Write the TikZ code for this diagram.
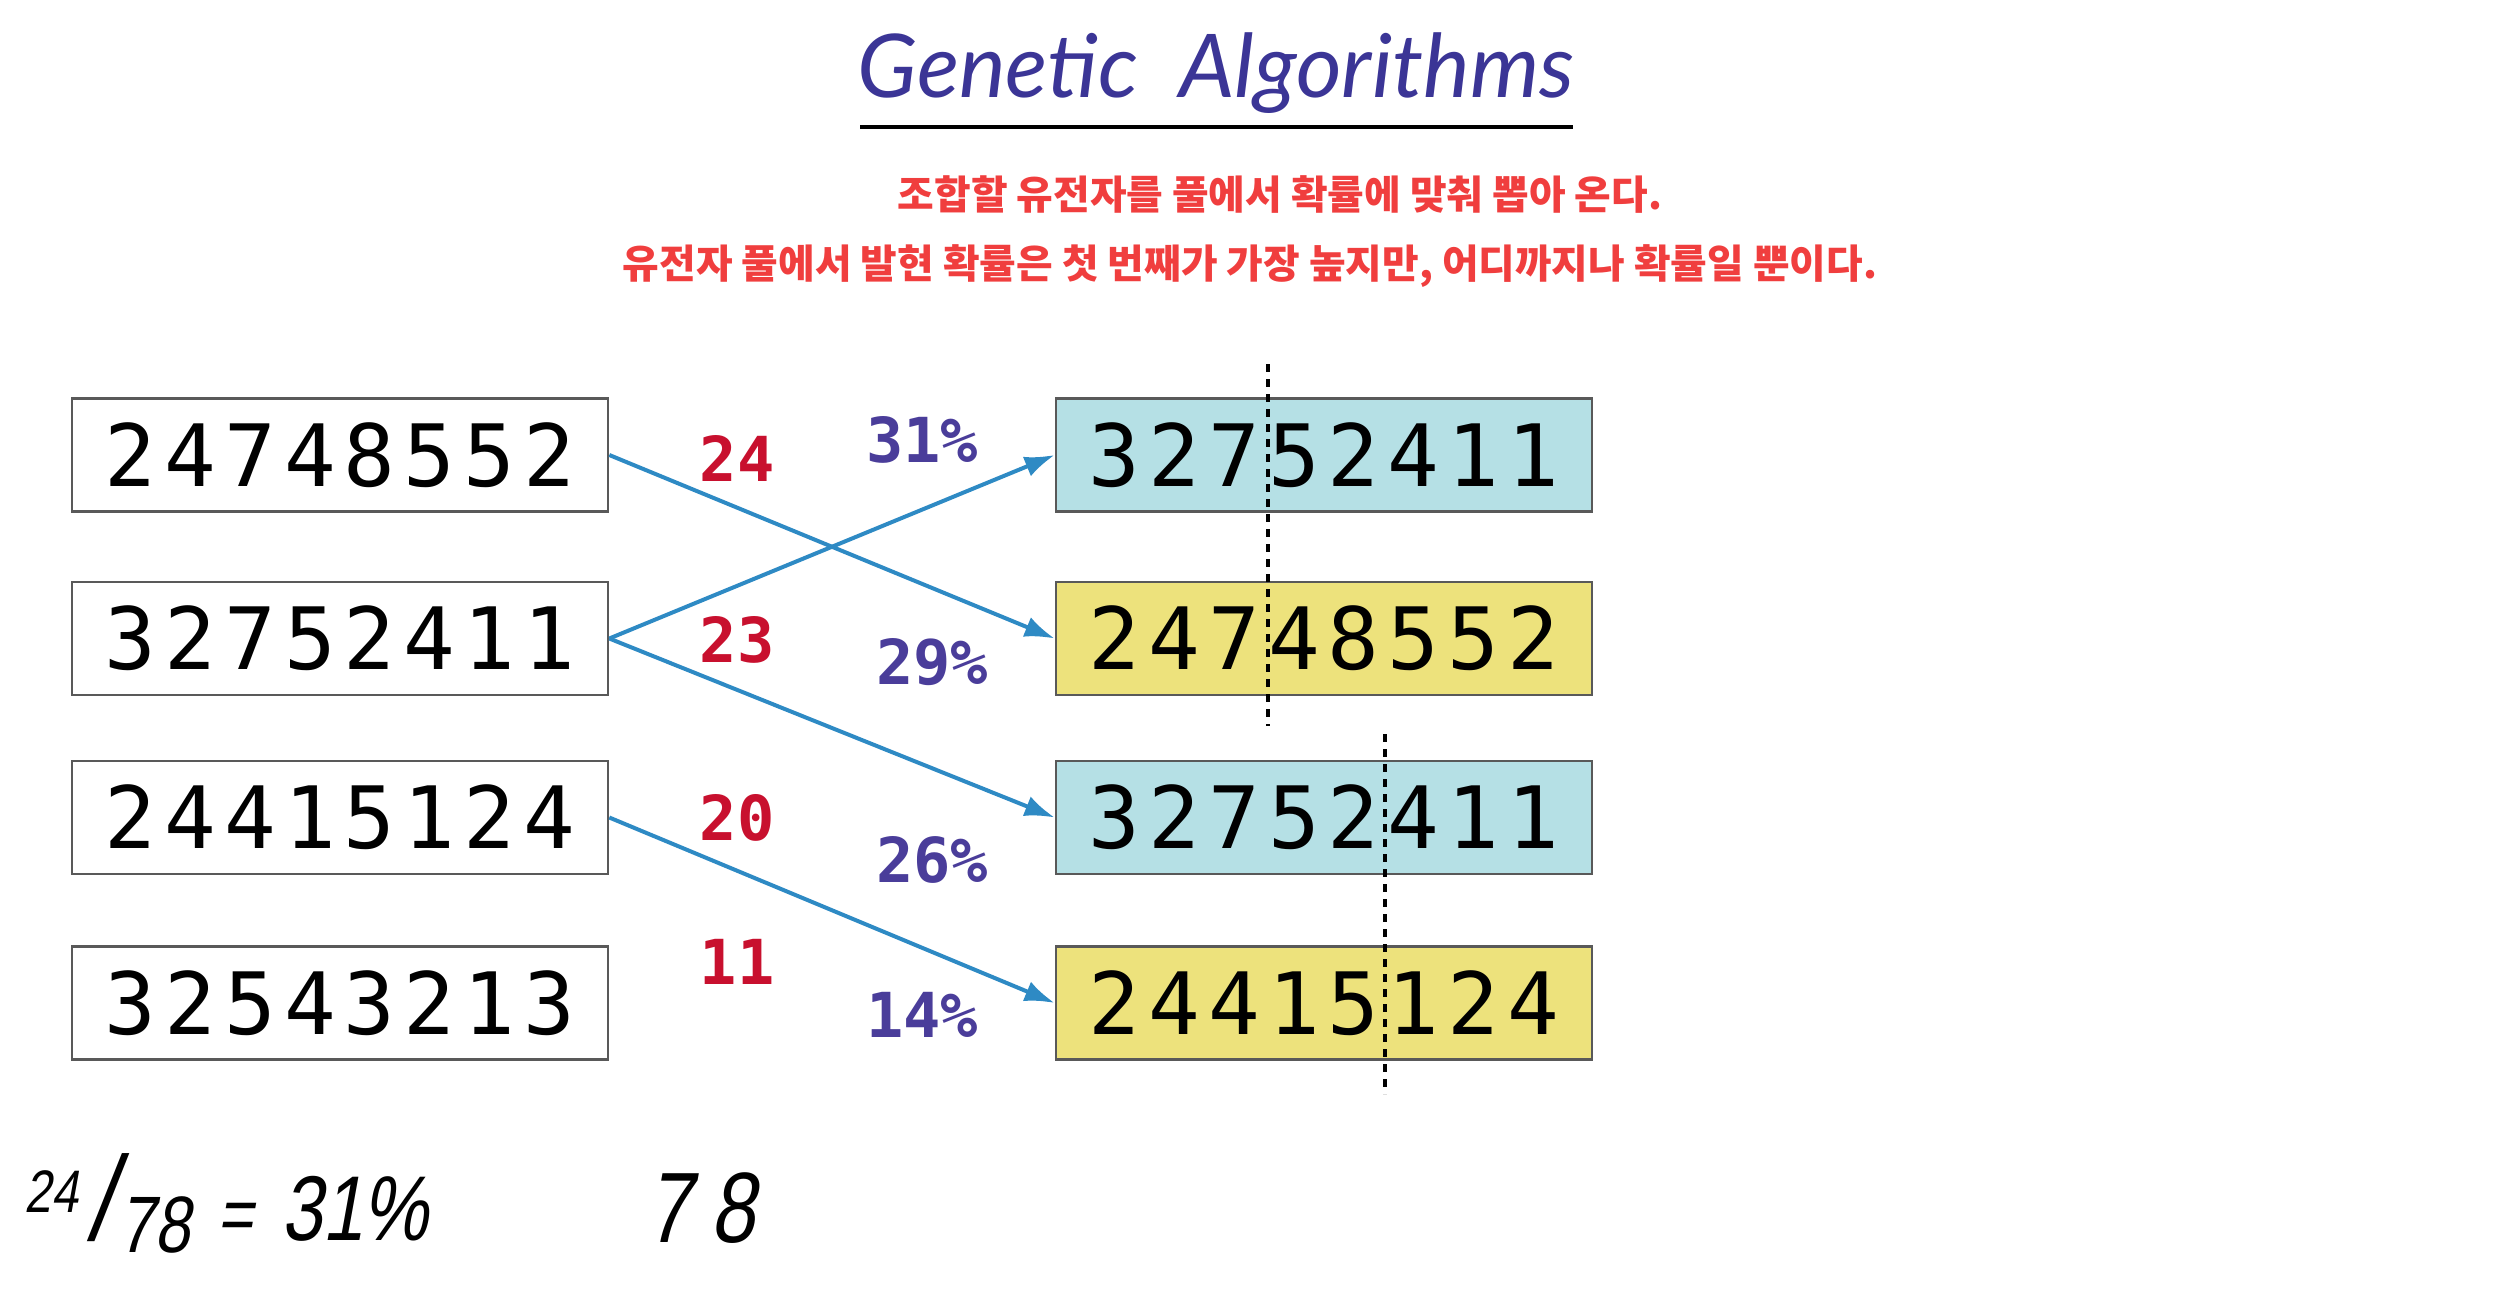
\documentclass[tikz,border=0pt]{standalone}
\usepackage{fontspec}
\usetikzlibrary{arrows.meta}
\newfontfamily\digitfont[LetterSpace=9.5]{DejaVu Sans Mono}
\newfontfamily\numfont{DejaVu Sans Mono}
\newfontfamily\kofont{Noto Sans CJK KR}
\newfontfamily\titlefont{Lato}
\newfontfamily\handfont[FakeStretch=0.8,FakeSlant=0.18]{Liberation Sans}
\definecolor{boxcyan}{HTML}{B5E0E5}
\definecolor{boxyellow}{HTML}{EDE27C}
\definecolor{arrowblue}{HTML}{2E8AC4}
\definecolor{numred}{HTML}{C8102E}
\definecolor{pctpurple}{HTML}{4A3D9A}
\definecolor{titleblue}{HTML}{3B3596}
\definecolor{korred}{HTML}{F03E3E}
\tikzset{
  chrom/.style={draw=black!65, line width=1.3pt, minimum width=268pt, minimum height=56.5pt,
    inner sep=0pt, font=\digitfont\fontsize{43}{43}\selectfont},
  fitlabel/.style={inner sep=0pt, text=numred, font=\numfont\bfseries\fontsize{31}{31}\selectfont},
  pctlabel/.style={inner sep=0pt, text=pctpurple, font=\numfont\bfseries\fontsize{31}{31}\selectfont},
  sel/.style={draw=arrowblue, line width=2pt, -{Latex[length=15pt,width=10.5pt]}},
  cutline/.style={draw=black, line width=2pt, dash pattern=on 4pt off 3.5pt},
  kor/.style={inner sep=0pt, text=korred, font=\kofont\bfseries\fontsize{19.9}{19.9}\selectfont},
  hand/.style={inner sep=0pt, anchor=base west, font=\handfont}
}
\begin{document}
\begin{tikzpicture}[x=0.5pt,y=-0.5pt]
\useasboundingbox (0,0) rectangle (2501,1307);
% title
\node[inner sep=0pt, anchor=base, text=titleblue, font=\titlefont\itshape\fontsize{44}{44}\selectfont] (title) at (1216,97) {Genetic\ \ Algorithms};
\coordinate (ulA) at (860,127);
\coordinate (ulB) at (1573,127);
\draw[line width=2pt] (ulA) -- (ulB);
% korean
\node[kor] (k1) at (1280,194) {조합할 유전자를 풀에서 확률에 맞춰 뽑아 온다.};
\node[kor] (k2) at (1250,266) {유전자 풀에서 발현 확률은 첫 번째가 가장 높지만, 어디까지나 확률일 뿐이다.};
% left boxes
\node[chrom] (l1) at (340,455) {24748552};
\node[chrom] (l2) at (340,638.5) {32752411};
\node[chrom] (l3) at (340,817.5) {24415124};
\node[chrom] (l4) at (340,1003) {32543213};
% right boxes
\node[chrom, fill=boxcyan] (r1) at (1324,455) {32752411};
\node[chrom, fill=boxyellow] (r2) at (1324,638.5) {24748552};
\node[chrom, fill=boxcyan] (r3) at (1324,817.5) {32752411};
\node[chrom, fill=boxyellow] (r4) at (1324,1003) {24415124};
% arrows
\draw[sel] (l1.east) -- (r2.west);
\draw[sel] (l2.east) -- (r1.west);
\draw[sel] (l2.east) -- (r3.west);
\draw[sel] (l3.east) -- (r4.west);
% fitness
\node[fitlabel] (f1) at (737,458) {24};
\node[fitlabel] (f2) at (737,640) {23};
\node[fitlabel] (f3) at (737,818) {20};
\node[fitlabel] (f4) at (737,962) {11};
% percentages
\node[pctlabel] (p1) at (922,440) {31\%};
\node[pctlabel] (p2) at (932,662) {29\%};
\node[pctlabel] (p3) at (932,860) {26\%};
\node[pctlabel] (p4) at (922,1015) {14\%};
% crossover cut lines
\coordinate (c1a) at (1268,364);
\coordinate (c1b) at (1268,726);
\coordinate (c2a) at (1385,734);
\coordinate (c2b) at (1385,1094);
\draw[cutline] (c1a) -- (c1b);
\draw[cutline] (c2a) -- (c2b);
% handwritten notes
\node[hand] (h1) at (24,1240) {\raisebox{14pt}{\fontsize{30}{30}\selectfont 24}\kern5pt{\fontsize{60}{60}\selectfont /}\kern2pt\raisebox{-6pt}{\fontsize{40}{40}\selectfont 78}\kern14pt{\fontsize{38}{38}\selectfont =}\kern14pt{\fontsize{46}{46}\selectfont 31\%}};
\node[hand] (h2) at (646,1242) {\fontsize{50}{50}\selectfont 7\kern10pt8};
\end{tikzpicture}
\end{document}
